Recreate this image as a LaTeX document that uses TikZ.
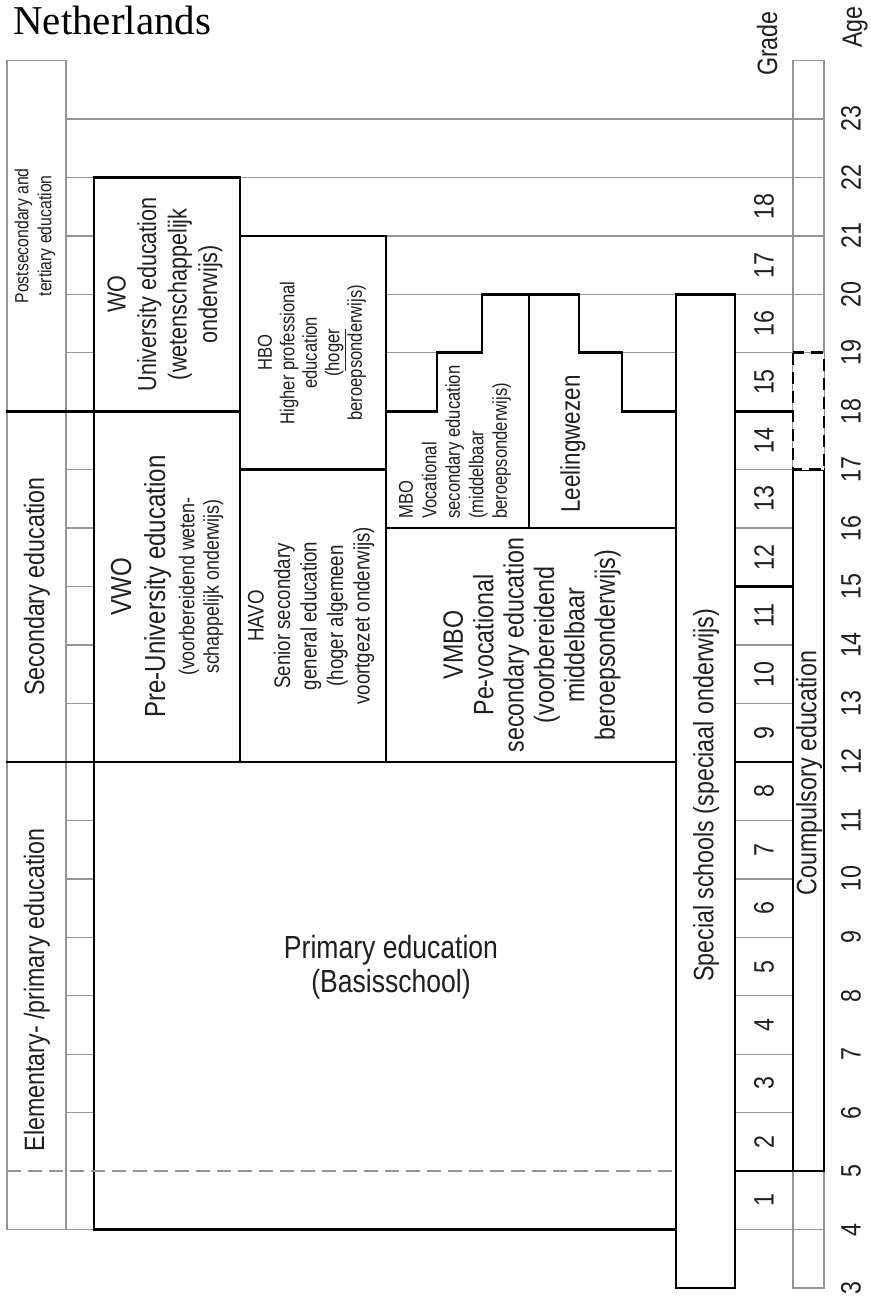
\documentclass[tikz,border=0pt]{standalone}
\usepackage{fontspec}
\setmainfont[FakeStretch=0.83]{Liberation Sans}
\newfontfamily\titlefont{Liberation Serif}
\newcommand\fsz[2]{\fontsize{#1pt}{#2pt}\selectfont}
\definecolor{linegray}{gray}{0.58}
\definecolor{txt}{gray}{0.12}
\begin{document}
\begin{tikzpicture}[x=1pt, y=58.45pt,
  gridrule/.style={draw=linegray, line width=1.4pt},
  edu/.style={draw=black, line width=2.6pt, fill=white},
  blackrule/.style={draw=black, line width=2.6pt, line cap=rect},
  lbl/.style={rotate=90, inner sep=0pt, align=center, text=txt},
  num/.style={rotate=90, inner sep=0pt, text=txt, font=\fsz{28}{32}}]
\useasboundingbox[fill=white] (0,2.778) rectangle (870,25.036);

% year grid (one line per age)
\foreach \a in {4,6,7,8,...,23}
  \draw[gridrule] (66,\a) -- (824,\a);
% stage column and age column frames
\draw[gridrule] (7,24) rectangle (66,4);
\draw[gridrule] (66,4) -- (94,4);
\draw[gridrule] (793,24) rectangle (824,3);

% stage boundaries in the left columns
\draw[blackrule] (7,18) -- (94,18);
\draw[blackrule] (7,12) -- (94,12);

% school types
\draw[edu] (94,22) rectangle (240,18);   % WO
\draw[edu] (94,18) rectangle (240,12);   % VWO
\draw[edu] (240,21) rectangle (386,17);  % HBO
\draw[edu] (240,17) rectangle (386,12);  % HAVO
\draw[edu] (386,18) -- (437,18) -- (437,19) -- (482,19) -- (482,20)
           -- (529,20) -- (529,16) -- (386,16) -- cycle;           % MBO
\draw[edu] (529,20) -- (579,20) -- (579,19) -- (622,19) -- (622,18)
           -- (676,18) -- (676,16) -- (529,16) -- cycle;           % Leerlingwezen
\draw[edu] (386,16) rectangle (676,12);  % VMBO
\draw[edu] (94,12) rectangle (676,4);    % primary
\draw[edu] (676,20) rectangle (735,3);   % special schools

% grade column boundaries
\draw[blackrule] (735,18) -- (793,18);
\draw[blackrule] (735,15) -- (793,15);
\draw[blackrule] (735,12) -- (793,12);
\draw[blackrule] (735,5) -- (824,5);

% compulsory education
\draw[edu] (793,17) rectangle (824,5);
\draw[edu, dash pattern=on 12pt off 7pt] (793,19) rectangle (824,17);

% start of compulsory schooling inside primary education
\draw[gridrule, dash pattern=on 14pt off 7pt] (7,5) -- (676,5);

% title
\node[anchor=base west, inner sep=0pt, font=\titlefont\fsz{41}{45}] (title) at (13,24.437) {Netherlands};

% axis headings
\node[num] (gradehead) at (767,24.29) {Grade};
\node[num] (agehead) at (855,24.57) {Age};
\foreach \a in {3,...,23}
  \node[num] (age\a) at (851,\a) {\a};
\foreach \g in {1,...,18}
  \node[num] (grade\g) at (764,{\g+3.5}) {\g};

% stage names
\node[lbl, font=\fsz{19}{23}] (post) at (35,21) {Postsecondary and\\tertiary education};
\node[lbl, font=\fsz{28}{32}] (sec) at (37,15) {Secondary education};
\node[lbl, font=\fsz{28}{32}] (elem) at (37,8.1) {Elementary- /primary education};

% box texts
\node[lbl, font=\fsz{26}{30.5}] (wo) at (165,20)
  {WO\\University education\\(wetenschappelijk\\onderwijs)};
\node[lbl, font=\fsz{29}{34}] (vwoa) at (141,15) {VWO\\Pre-University education};
\node[lbl, font=\fsz{21.5}{24.5}] (vwob) at (201,15) {(voorbereidend weten-\\schappelijk onderwijs)};
\node[lbl, font=\fsz{20}{22.5}] (hbo) at (312,19)
  {HBO\\Higher professional\\education\\(\underline{hoger}\\beroepsonderwijs)};
\node[lbl, font=\fsz{22.5}{26.5}] (havo) at (311,14.5)
  {HAVO\\Senior secondary\\general education\\(hoger algemeen\\voortgezet onderwijs)};
\node[lbl, font=\fsz{20}{23.5}, align=left, anchor=west] (mbo) at (455,16.157)
  {MBO\\Vocational\\secondary education\\(middelbaar\\beroepsonderwijs)};
\node[lbl, font=\fsz{27}{31}] (leel) at (573,17.44) {Leelingwezen};
\node[lbl, font=\fsz{28}{30.4}] (vmbo) at (532,14)
  {VMBO\\Pe-vocational\\secondary education\\(voorbereidend\\middelbaar\\beroepsonderwijs)};
\node[inner sep=0pt, align=center, text=txt, font=\fsz{32}{34}] (prim) at (391,8.49)
  {Primary education\\(Basisschool)};
\node[lbl, font=\fsz{28}{32}] (spec) at (706,11.43) {Special schools (speciaal onderwijs)};
\node[lbl, font=\fsz{28}{32}] (comp) at (809,11.81) {Coumpulsory education};
\end{tikzpicture}
\end{document}
